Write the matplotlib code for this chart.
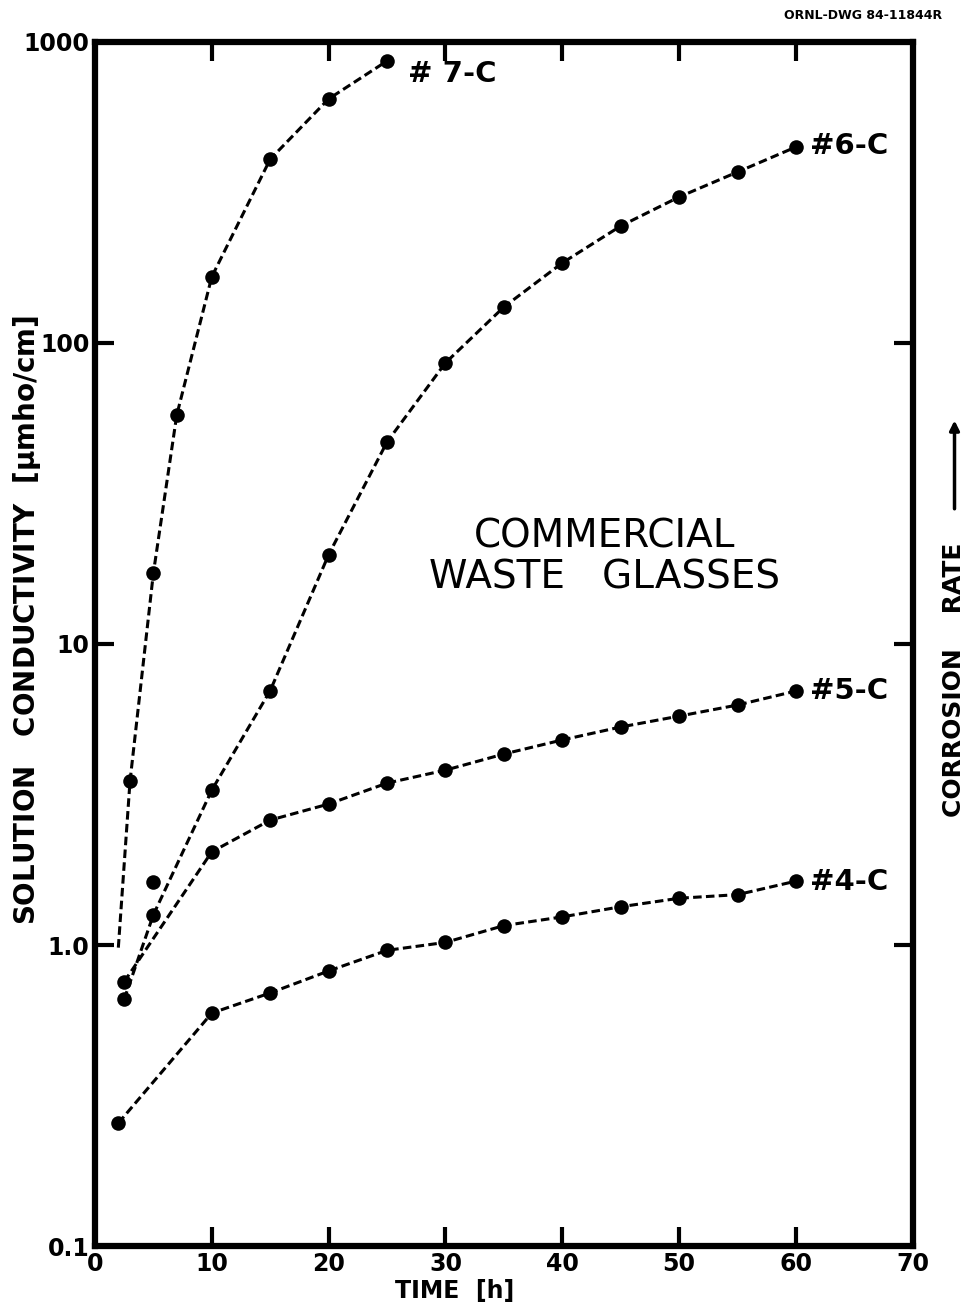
import matplotlib
matplotlib.use('Agg')
import matplotlib.pyplot as plt
from matplotlib.ticker import NullLocator, FixedLocator, FixedFormatter

# measured conductivity vs time for each glass
t_7c = [2, 3, 5, 7, 10, 15, 20, 25]
s_7c = [0.98, 3.5, 17.2, 57.6, 166, 408, 647, 865]

t_6c = [2.5, 5, 10, 15, 20, 25, 30, 35, 40, 45, 50, 55, 60]
s_6c = [0.66, 1.26, 3.27, 7.0, 19.8, 46.9, 85.9, 131.7, 184.5, 244.7, 305.6, 369.9, 447.9]

t_5c = [2.5, 5, 10, 15, 20, 25, 30, 35, 40, 45, 50, 55, 60]
s_5c = [0.755, 1.62, 2.04, 2.60, 2.94, 3.45, 3.81, 4.31, 4.80, 5.30, 5.76, 6.27, 6.98]

t_4c = [2, 10, 15, 20, 25, 30, 35, 40, 45, 50, 55, 60]
s_4c = [0.256, 0.594, 0.693, 0.82, 0.96, 1.02, 1.16, 1.24, 1.34, 1.43, 1.47, 1.63]

x_ticks = [0, 10, 20, 30, 40, 50, 60, 70]
y_ticks = [0.1, 1, 10, 100, 1000]
y_tick_labels = ['0.1', '1.0', '10', '100', '1000']

fig = plt.figure(figsize=(9.69, 13.12), dpi=100)
ax = fig.add_axes([0.098, 0.0503, 0.844, 0.9177])

line_kw = dict(color='black', lw=2.2, dashes=(2.8, 1.4))
mark_kw = dict(color='black', s=110, zorder=3, linewidths=0)

# 7-C: curve starts at ~1.0 without a marker
ax.plot(t_7c, s_7c, **line_kw)
ax.scatter(t_7c[1:], s_7c[1:], **mark_kw)

ax.plot(t_6c, s_6c, **line_kw)
ax.scatter(t_6c, s_6c, **mark_kw)

# 5-C: 5 h point sits off the smoothed curve
ax.plot([t for i, t in enumerate(t_5c) if i != 1],
        [s for i, s in enumerate(s_5c) if i != 1], **line_kw)
ax.scatter(t_5c, s_5c, **mark_kw)

ax.plot(t_4c, s_4c, **line_kw)
ax.scatter(t_4c, s_4c, **mark_kw)

ax.set_yscale('log')
ax.set_xlim(0, 70)
ax.set_ylim(0.1, 1000)

ax.xaxis.set_major_locator(FixedLocator(x_ticks))
ax.yaxis.set_major_locator(FixedLocator(y_ticks))
ax.yaxis.set_major_formatter(FixedFormatter(y_tick_labels))
ax.yaxis.set_minor_locator(NullLocator())
ax.xaxis.set_minor_locator(NullLocator())
ax.tick_params(direction='in', length=14, width=3, top=True, right=True,
               labelsize=17, pad=4)
for lab in ax.get_xticklabels() + ax.get_yticklabels():
    lab.set_fontweight('bold')
for sp in ax.spines.values():
    sp.set_linewidth(4.5)

ax.set_xlabel('TIME  [h]', fontsize=17, fontweight='bold')
ax.xaxis.set_label_coords(0.44, -0.027)
ax.set_ylabel('SOLUTION   CONDUCTIVITY  [$\\mathbf{\\mu}$mho/cm]', fontsize=20,
              fontweight='bold')
ax.yaxis.set_label_coords(-0.064, 0.52)

# curve labels
ax.text(26.8, 780, '# 7-C', fontsize=21, fontweight='bold', va='center')
ax.text(61.2, 450, '#6-C', fontsize=21, fontweight='bold', va='center')
ax.text(61.2, 7.0, '#5-C', fontsize=21, fontweight='bold', va='center')
ax.text(61.2, 1.62, '#4-C', fontsize=21, fontweight='bold', va='center')

ax.text(43.6, 19.5, 'COMMERCIAL\nWASTE   GLASSES', fontsize=28, ha='center',
        va='center', linespacing=1.1)

# right-hand annotation
fig.text(0.985, 0.482, 'CORROSION    RATE', rotation=90, fontsize=18,
         fontweight='bold', ha='center', va='center')
ax.annotate('', xy=(1.051, 0.688), xytext=(1.051, 0.61),
            xycoords='axes fraction',
            arrowprops=dict(arrowstyle='-|>', color='black', lw=2.5,
                            mutation_scale=14))

fig.text(0.972, 0.993, 'ORNL-DWG 84-11844R', fontsize=9, fontweight='bold',
         ha='right', va='top')

fig.savefig('out.png', dpi=100)
